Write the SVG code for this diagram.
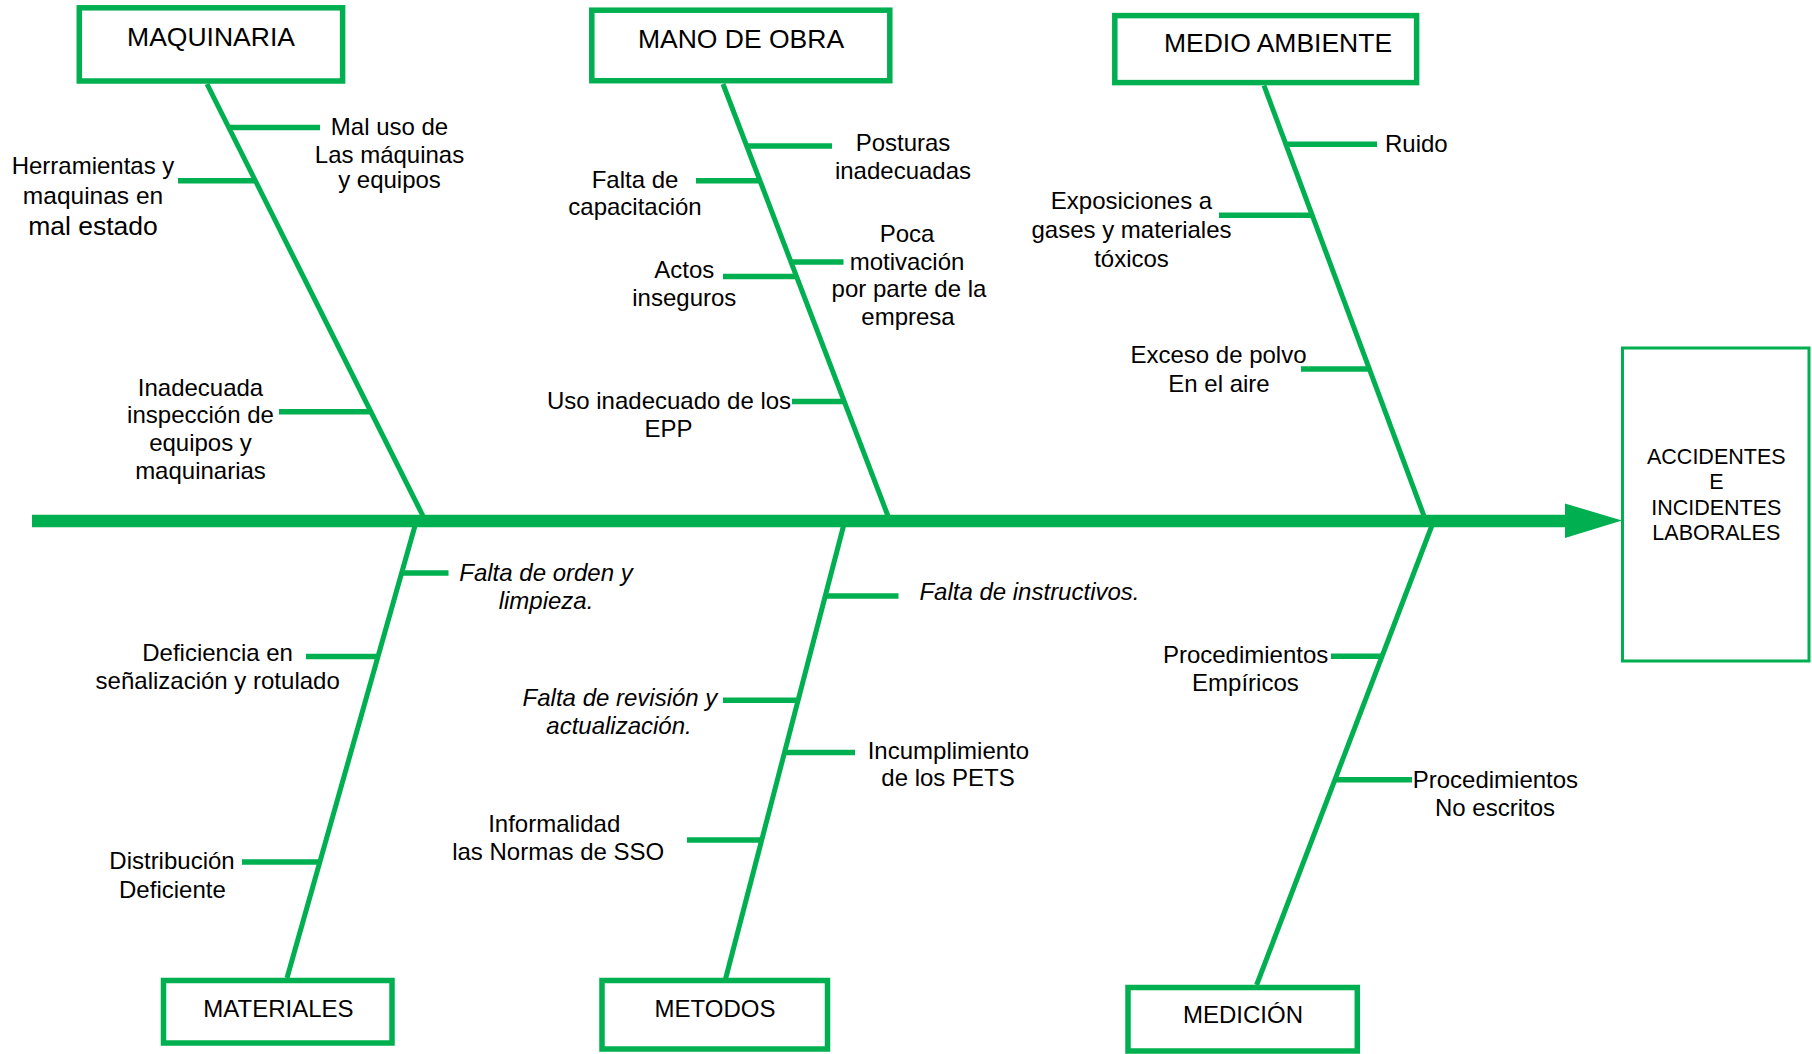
<svg xmlns="http://www.w3.org/2000/svg" width="1812" height="1054" viewBox="0 0 1812 1054">
<style>
.bg{fill:#ffffff}
.cat{fill:#ffffff;stroke:#00B050;stroke-width:5.5}
.eff{fill:#ffffff;stroke:#00B050;stroke-width:3}
.bone{stroke:#00B050;stroke-width:5;fill:none;stroke-linecap:butt}
.sub{stroke:#00B050;stroke-width:5.5;fill:none}
.spine{stroke:#00B050;stroke-width:12.5;fill:none}
.head{fill:#00B050}
text{font-family:"Liberation Sans",Arial,sans-serif;fill:#000000}
.t{font-size:24px;text-anchor:middle}
.ts{font-size:24px;text-anchor:start}
.i{font-style:italic}
.c1{font-size:26.5px;text-anchor:middle}
.c2{font-size:24px;text-anchor:middle}
.ef{font-size:21.5px;text-anchor:middle}
</style>
<rect class="bg" x="0" y="0" width="1812" height="1054"/>

<g id="connectors">
  <line class="spine" x1="32" y1="521" x2="1567" y2="521"/>
  <polygon class="head" points="1565,503.5 1622,520.5 1565,538"/>
  <!-- main bones -->
  <line class="bone" x1="207" y1="84" x2="423" y2="516"/>
  <line class="bone" x1="723" y1="84" x2="888" y2="516"/>
  <line class="bone" x1="1264" y1="85.5" x2="1424" y2="516"/>
  <line class="bone" x1="415.5" y1="524" x2="287" y2="978"/>
  <line class="bone" x1="844" y1="524" x2="725" y2="981"/>
  <line class="bone" x1="1432.5" y1="524" x2="1256.6" y2="985"/>
  <!-- sub bones -->
  <line class="sub" x1="229" y1="127.4" x2="320" y2="127.4"/>
  <line class="sub" x1="178" y1="180.8" x2="256" y2="180.8"/>
  <line class="sub" x1="279" y1="411.7" x2="372" y2="411.7"/>
  <line class="sub" x1="747" y1="146" x2="832" y2="146"/>
  <line class="sub" x1="696" y1="180.8" x2="760" y2="180.8"/>
  <line class="sub" x1="791" y1="262" x2="843.5" y2="262"/>
  <line class="sub" x1="723" y1="276.5" x2="797" y2="276.5"/>
  <line class="sub" x1="792" y1="401.5" x2="845" y2="401.5"/>
  <line class="sub" x1="1286" y1="144.3" x2="1377" y2="144.3"/>
  <line class="sub" x1="1219" y1="215.3" x2="1312.5" y2="215.3"/>
  <line class="sub" x1="1301" y1="369" x2="1370" y2="369"/>
  <line class="sub" x1="402" y1="573" x2="448.5" y2="573"/>
  <line class="sub" x1="306" y1="656.5" x2="379" y2="656.5"/>
  <line class="sub" x1="242" y1="862" x2="320" y2="862"/>
  <line class="sub" x1="825" y1="596" x2="898.5" y2="596"/>
  <line class="sub" x1="723" y1="700.3" x2="798" y2="700.3"/>
  <line class="sub" x1="784.5" y1="752.6" x2="855" y2="752.6"/>
  <line class="sub" x1="687" y1="840" x2="762" y2="840"/>
  <line class="sub" x1="1331" y1="656.2" x2="1382" y2="656.2"/>
  <line class="sub" x1="1335" y1="779.8" x2="1412" y2="779.8"/>
</g>

<g id="effect">
  <rect class="eff" x="1622.5" y="348" width="186.5" height="313"/>
  <text class="ef" x="1716.3" y="463.7">ACCIDENTES</text>
  <text class="ef" x="1716.3" y="489">E</text>
  <text class="ef" x="1716.3" y="515">INCIDENTES</text>
  <text class="ef" x="1716.3" y="540">LABORALES</text>
</g>

<g id="maquinaria">
  <rect class="cat" x="79.3" y="7.8" width="263.3" height="73.2"/>
  <text class="c1" x="211" y="45.6">MAQUINARIA</text>
</g>
<g id="mano-de-obra">
  <rect class="cat" x="591.8" y="10.2" width="298" height="70.5"/>
  <text class="c1" x="741" y="48">MANO DE OBRA</text>
</g>
<g id="medio-ambiente">
  <rect class="cat" x="1114.8" y="15.6" width="301.8" height="67"/>
  <text class="c1" x="1278" y="52.4">MEDIO AMBIENTE</text>
</g>
<g id="materiales">
  <rect class="cat" x="163.5" y="980.5" width="228.5" height="62.5"/>
  <text class="c2" x="278.4" y="1016.5">MATERIALES</text>
</g>
<g id="metodos">
  <rect class="cat" x="602" y="980.5" width="225.5" height="68.5"/>
  <text class="c2" x="715" y="1016.5">METODOS</text>
</g>
<g id="medicion">
  <rect class="cat" x="1128" y="987.5" width="229.3" height="63.5"/>
  <text class="c2" x="1243" y="1023">MEDICIÓN</text>
</g>

<g id="causes-maquinaria">
  <text class="t" x="389.5"><tspan x="389.5" y="135.2">Mal uso de</tspan><tspan x="389.5" y="163.3">Las máquinas</tspan><tspan x="389.5" y="188">y equipos</tspan></text>
  <text class="t" x="93"><tspan x="93" y="174" font-size="24">Herramientas y</tspan><tspan x="93" y="203.5" font-size="24.5">maquinas en</tspan><tspan x="93" y="234.5" font-size="26.5">mal estado</tspan></text>
  <text class="t" x="200.5"><tspan x="200.5" y="396.1">Inadecuada</tspan><tspan x="200.5" y="423.2">inspección de</tspan><tspan x="200.5" y="451.2">equipos y</tspan><tspan x="200.5" y="479.3">maquinarias</tspan></text>
</g>
<g id="causes-mano-de-obra">
  <text class="t"><tspan x="903" y="151">Posturas</tspan><tspan x="903" y="179">inadecuadas</tspan></text>
  <text class="t"><tspan x="635" y="187.6">Falta de</tspan><tspan x="635" y="214.6">capacitación</tspan></text>
  <text class="t"><tspan x="907" y="241.7">Poca</tspan><tspan x="907" y="269.7">motivación</tspan><tspan x="909" y="297.4">por parte de la</tspan><tspan x="908" y="324.5">empresa</tspan></text>
  <text class="t"><tspan x="684.3" y="277.8">Actos</tspan><tspan x="684.3" y="305.9">inseguros</tspan></text>
  <text class="t"><tspan x="669" y="409">Uso inadecuado de los</tspan><tspan x="668.5" y="437">EPP</tspan></text>
</g>
<g id="causes-medio-ambiente">
  <text class="ts" x="1385" y="152">Ruido</text>
  <text class="t"><tspan x="1131.5" y="208.9">Exposiciones a</tspan><tspan x="1131.5" y="237.6">gases y materiales</tspan><tspan x="1131.5" y="267">tóxicos</tspan></text>
  <text class="t"><tspan x="1218.5" y="363.4">Exceso de polvo</tspan><tspan x="1219" y="392">En el aire</tspan></text>
</g>
<g id="causes-materiales">
  <text class="t i"><tspan x="546" y="580.6">Falta de orden y</tspan><tspan x="546" y="608.8">limpieza.</tspan></text>
  <text class="t"><tspan x="217.6" y="660.7">Deficiencia en</tspan><tspan x="217.7" y="689">señalización y rotulado</tspan></text>
  <text class="t"><tspan x="172" y="868.5">Distribución</tspan><tspan x="172.4" y="897.5">Deficiente</tspan></text>
</g>
<g id="causes-metodos">
  <text class="ts i" x="919.4" y="599.6">Falta de instructivos.</text>
  <text class="t i"><tspan x="620" y="705.6">Falta de revisión y</tspan><tspan x="619" y="733.9">actualización.</tspan></text>
  <text class="t"><tspan x="948.4" y="758.6">Incumplimiento</tspan><tspan x="948" y="786.2">de los PETS</tspan></text>
  <text class="t"><tspan x="554.2" y="832">Informalidad</tspan><tspan x="558.2" y="860.4">las Normas de SSO</tspan></text>
</g>
<g id="causes-medicion">
  <text class="t"><tspan x="1245.6" y="662.5">Procedimientos</tspan><tspan x="1245.4" y="690.8">Empíricos</tspan></text>
  <text class="t"><tspan x="1495.4" y="788">Procedimientos</tspan><tspan x="1495" y="816.2">No escritos</tspan></text>
</g>
</svg>
